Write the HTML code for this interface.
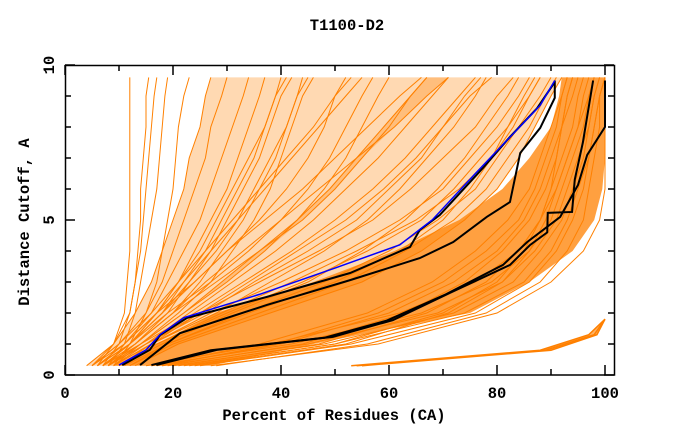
<!DOCTYPE html>
<html><head><meta charset="utf-8"><style>
html,body{margin:0;padding:0;background:#fff;}
svg text{font-family:"Liberation Mono","DejaVu Sans Mono",monospace;font-weight:bold;fill:#000;}
</style></head>
<body>
<svg id="chart" width="680" height="440" viewBox="0 0 680 440" xmlns="http://www.w3.org/2000/svg">
<text x="347" y="30" font-size="15.5" text-anchor="middle">T1100-D2</text>
<g id="marks"></g>
<rect x="65.5" y="65.5" width="549" height="309.5" fill="none" stroke="#000" stroke-width="1.5"/>
<g id="axes"></g>
<text x="334" y="420" font-size="15.5" text-anchor="middle">Percent of Residues (CA)</text>
<text x="29" y="222" font-size="15.5" text-anchor="middle" transform="rotate(-90 29 222)">Distance Cutoff, A</text>
</svg>
<script>
const cutoffs=[0.3,1,2,3,4,5,6,7,8,9,9.6];
const denseLower=[27,46,75,86,94,98,99.5,100,100,100,100];
const denseUpper=[9,17,28,46,61,73,81,86,90,91.5,92];
const groupA=[
[15,38,62,76,84,88,91,93,95,97,98],[16,42,66,79,86,90,92,94,96,97,98],[18,45,69,81,87,91,93,95,97,98,99],
[20,48,72,83,88,92,94,96,97,98,99],[22,50,74,85,90,93,95,97,98,99,100],[25,53,76,86,91,94,96,97,98,99,100],
[17,40,60,72,80,85,88,90,92,93,94],[19,44,63,74,81,86,89,91,92,94,95],[21,47,67,78,84,88,90,92,94,95,96],
[24,52,71,81,86,89,91,93,95,96,97],[16,36,56,68,76,82,86,88,90,92,93],[28,56,78,88,93,96,97,98,99,99,100],
[18,39,58,70,78,84,87,89,91,92,93],[23,50,70,80,85,88,90,91,92,93,94],[27,58,80,90,96,99,100,100,100,100,100]];
const groupB=[
[10,17,30,44,56,66,72,77,82,86,88],[9,16,27,40,52,62,70,75,80,84,86],[11,19,33,48,60,69,76,80,84,88,90],
[12,20,36,52,63,72,78,82,86,89,91],[8,15,25,36,47,57,64,70,76,80,83],[10,18,31,45,55,63,69,74,78,82,84],
[13,21,38,55,66,74,80,84,87,90,92],[9,16,28,38,48,56,62,67,72,76,78],[11,17,29,42,54,65,73,79,83,86,88],
[7,14,24,33,42,50,57,63,68,73,76],[12,19,34,50,62,70,75,79,82,85,87],[8,15,26,35,45,54,60,66,70,74,77],
[9,15,23,31,39,46,52,58,63,68,71],[8,14,22,29,36,43,49,54,59,64,67],[10,16,25,34,43,52,59,65,70,75,79]];
const groupC=[
[6,11,16,19,22,25,27,29,31,33,34],[7,12,17,21,24,27,30,32,34,36,37],[5,10,15,18,20,22,24,26,27,29,30],
[8,13,19,23,27,30,33,36,38,40,42],[6,12,18,22,26,29,32,35,37,39,40],[7,13,20,25,29,33,36,39,41,43,44],
[9,14,21,27,31,35,38,40,42,44,46],[5,11,17,24,30,36,41,45,48,50,52],[6,12,19,27,34,40,45,49,52,55,57],
[4,9,13,16,18,20,22,23,25,26,27],[8,14,22,30,37,43,48,52,55,58,60],[7,13,20,28,36,44,50,55,60,64,67],
[6,11,17,22,27,32,37,42,47,52,55],[7,12,18,24,30,37,44,50,56,62,66],[5,10,16,21,26,31,36,41,46,50,53],
[8,13,20,26,33,40,47,54,61,67,71],[6,12,17,21,25,28,31,34,37,39,41],[7,12,18,23,28,32,35,38,41,43,45]];
const groupD=[[6,9,11,11.5,12,12,12,12,12,12,12],[7,10,12,13,14,14.5,15,15.5,16,16.5,17],
[8,11,13,14,15,16,17,17.5,18,18.5,19],[9,12,15,17,18,19,20,20.5,21,22,23],[5,9,12,13,13.5,14,14,14.5,15,15,15.5]];
const lowCut=[0.3,0.8,1.3,1.8];
const lowGroup=[[53,88,97,100],[54,89,98,100],[55,90,98.5,100]];
const blueY=[0.32,0.81,1.3,1.85,2.6,3.45,4.2,5,6.5,7.6,8.7,9.5];
const blueX=[10,15,17.6,22,36,50,62,68,76,82,88,90.7];
const blackAY=[0.32,0.81,1.29,1.84,2.52,3.29,4.13,4.68,5.16,6.68,7.68,8.6,9.45];
const blackAX=[10.6,15.7,17.6,22.6,37.4,52.8,63.9,65.7,69.4,77.4,82.4,87.4,90.7];
const blackBY=[0.32,1.35,2.26,3.06,3.77,4.29,5.1,5.58,7.16,7.97,8.94,9.5];
const blackBX=[13.9,21.3,37.4,52.8,65.7,71.9,78.1,82.4,84.3,88,90.7,90.7];
const blackCY=[0.32,0.81,1.23,1.77,2.65,3.55,4.19,4.6,5.23,5.26,6.3,7.5,9.5];
const blackCX=[16.9,28.1,49.6,60.7,71.3,82.4,86.1,89.3,89.4,93.9,94.4,95.9,97.8];
const blackDY=[0.32,0.8,1.2,1.75,2.6,3.55,4.29,5.1,6.13,7.1,8.0,9.5];
const blackDX=[16,27,48,59.5,70.5,81.1,85.6,91.7,95,96.7,100,100];
const xTicks=[0,20,40,60,80,100];
const yTicks=[0,5,10];

const NS="http://www.w3.org/2000/svg";
function sx(v){return 65+v*5.4;}
function sy(v){return 375-v*31;}
const marks=document.getElementById('marks');
const axes=document.getElementById('axes');
function line(xs,ys,color,w,name){
  const p=document.createElementNS(NS,'polyline');
  p.setAttribute('points',xs.map((x,i)=>sx(x)+','+sy(ys[i])).join(' '));
  p.setAttribute('fill','none');p.setAttribute('stroke',color);p.setAttribute('stroke-width',w);
  
  
  marks.appendChild(p);
}
function area(lo,hi,ys,op,name){
  const pts=lo.map((x,i)=>sx(x)+','+sy(ys[i])).concat(hi.map((x,i)=>sx(x)+','+sy(ys[i])).reverse());
  const p=document.createElementNS(NS,'polygon');
  p.setAttribute('points',pts.join(' '));
  p.setAttribute('fill','#ff8000');p.setAttribute('fill-opacity',op);
  
  
  marks.appendChild(p);
}
function band(group,ys,op,name){
  const mins=ys.map((_,i)=>Math.min(...group.map(g=>g[i])));
  const maxs=ys.map((_,i)=>Math.max(...group.map(g=>g[i])));
  area(mins,maxs,ys,op,name);
}
band(groupC,cutoffs,'0.3','band-c');
band(groupB,cutoffs,'0.3','band-b');
area(denseLower,denseUpper,cutoffs,'0.75','dense-band');
band(lowGroup,lowCut,'0.6','band-low');
[groupA,groupB,groupC,groupD].forEach(g=>g.forEach(xs=>line(xs,cutoffs,'#ff8000',1,'model-curve')));
lowGroup.forEach(xs=>line(xs,lowCut,'#ff8000',1.5,'model-curve-low'));
line(blackAX,blackAY,'#000',2,'reference-curve-1');
line(blackBX,blackBY,'#000',2,'reference-curve-2');
line(blackCX,blackCY,'#000',2,'reference-curve-3');
line(blackDX,blackDY,'#000',2,'reference-curve-4');
line(blueX,blueY,'#0000ff',1.5,'highlight-curve');

function tick(x1,y1,x2,y2){
  const l=document.createElementNS(NS,'line');
  l.setAttribute('x1',x1);l.setAttribute('y1',y1);l.setAttribute('x2',x2);l.setAttribute('y2',y2);
  l.setAttribute('stroke','#000');l.setAttribute('stroke-width','1.5');
  
  
  axes.appendChild(l);
}
function label(x,y,t,anchor,name){
  const e=document.createElementNS(NS,'text');
  e.setAttribute('x',x);e.setAttribute('y',y);e.setAttribute('font-size','15.5');e.setAttribute('text-anchor',anchor);
  e.textContent=t;
  
  
  axes.appendChild(e);
}
for(let v=0;v<=100;v+=10){
  const major=xTicks.includes(v);
  tick(sx(v),375,sx(v),375-(major?10:6));
  tick(sx(v),65,sx(v),65+(major?10:6));
}
xTicks.forEach(v=>label(sx(v),398,String(v),'middle','x-tick-label'));
for(let v=0;v<=10;v+=1){
  const major=yTicks.includes(v);
  tick(65,sy(v),65+(major?10:6),sy(v));
  tick(614,sy(v),614-(major?10:6),sy(v));
}
yTicks.forEach(v=>{
  const e=document.createElementNS(NS,'text');
  const x=54,y=sy(v);
  e.setAttribute('x',x);e.setAttribute('y',y);e.setAttribute('font-size','15.5');e.setAttribute('text-anchor','middle');
  e.setAttribute('transform','rotate(-90 '+x+' '+y+')');
  e.textContent=String(v);
  
  
  axes.appendChild(e);
});
</script>
</body></html>
